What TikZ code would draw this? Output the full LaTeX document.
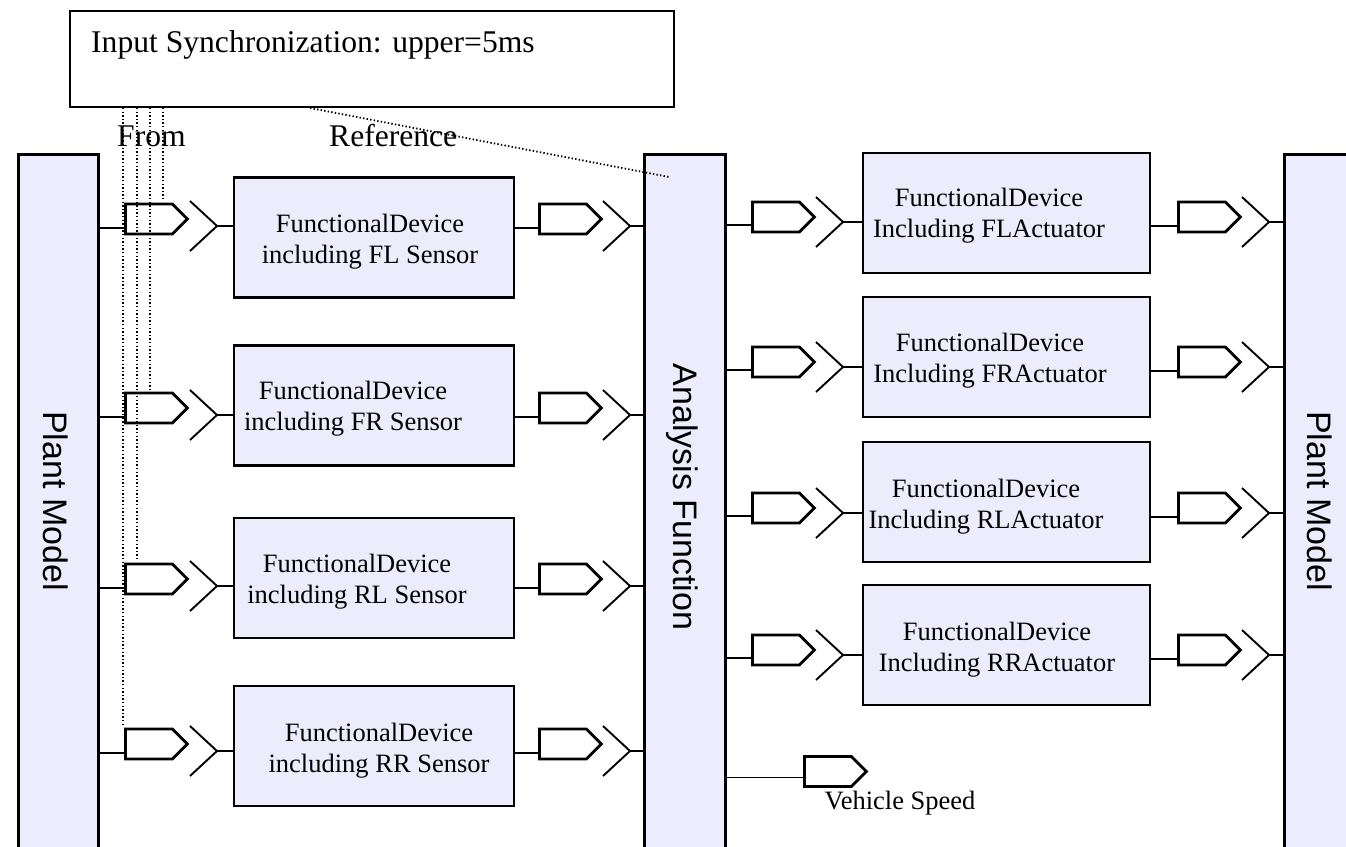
\documentclass[tikz,border=0pt]{standalone}
\usepackage{fontspec}
\setmainfont{Liberation Serif}
\newfontfamily\blocksans{Liberation Sans}
\usetikzlibrary{shapes.symbols,calc}
\definecolor{blockfill}{RGB}{236,236,253}
\tikzset{
  blk/.style={draw, line width=2.6pt, fill=blockfill, inner sep=0pt, anchor=north west},
  fdbox/.style={draw, line width=2.6pt, fill=blockfill, inner sep=0pt, minimum height=120pt},
  port/.style={signal, signal to=east, signal pointer angle=90, draw, line width=2.8pt,
               minimum width=62pt, minimum height=30pt, inner sep=0pt, anchor=west},
  wire/.style={line width=1.9pt},
  syncline/.style={line width=1.8pt, dash pattern=on 1.4pt off 2.2pt},
  lbl/.style={font=\fontsize{26.5}{31}\selectfont, align=center, inner sep=0pt},
  bigtxt/.style={font=\fontsize{31.6}{36}\selectfont, inner sep=0pt, anchor=base west},
  sidetxt/.style={font=\blocksans\fontsize{34}{40}\selectfont, rotate=-90, inner sep=0pt},
}
\begin{document}
\begin{tikzpicture}[x=1pt, y=-1pt]
\useasboundingbox (0,0) rectangle (1346,846);

% constraint box
\node[draw, line width=2pt, anchor=north west, minimum width=604pt, minimum height=96pt, inner sep=0pt] (sync) at (69,10) {};
\node[bigtxt] (synctxt) at (91,52) {Input Synchronization: upper=5ms};
\node[bigtxt] (fromtxt) at (117,146) {From};
\node[bigtxt] (reftxt) at (329,146) {Reference};

% large blocks
\node[blk, minimum width=80pt, minimum height=720pt] (plantL) at (17,153) {};
\node[blk, minimum width=81pt, minimum height=720pt] (ana) at (643,153) {};
\node[blk, minimum width=100pt, minimum height=720pt] (plantR) at (1283,153) {};
\node[sidetxt] (plantLt) at (56,501) {Plant Model};
\node[sidetxt] (anat) at (682,497) {Analysis Function};
\node[sidetxt] (plantRt) at (1320,501) {Plant Model};

% sensor rows
\foreach \i/\bc/\c/\tx/\ty/\nm in {1/237.5/219/370/242/FL, 2/405.5/408/353/409/FR,
                                   3/578/579/357/582/RL, 4/746/744/379/751/RR}{
  \node[fdbox, minimum width=280pt] (S\i) at (374,\bc) {};
  \node[lbl] (St\i) at (\tx,\ty) {FunctionalDevice\\including \nm\ Sensor};
  % input port
  \node[port] (SI\i) at (124,\c) {};
  \coordinate (SIw\i) at ($(SI\i.west)+(0,9)$);
  \draw[wire] (plantL.east |- SIw\i) -- (SIw\i);
  \coordinate (SIc\i) at (217,{\c+7});
  \draw[wire] ($(SIc\i)+(-27,-25)$) -- (SIc\i) -- ($(SIc\i)+(-27,25)$);
  \draw[wire] (SIc\i) -- (S\i.west |- SIc\i);
  % output port
  \node[port] (SO\i) at (538,\c) {};
  \coordinate (SOw\i) at ($(SO\i.west)+(0,9)$);
  \draw[wire] (S\i.east |- SOw\i) -- (SOw\i);
  \coordinate (SOc\i) at (630,{\c+7});
  \draw[wire] ($(SOc\i)+(-27,-25)$) -- (SOc\i) -- ($(SOc\i)+(-27,25)$);
  \draw[wire] (SOc\i) -- (ana.west |- SOc\i);
}

% actuator rows
\foreach \i/\bc/\c/\tx/\ty/\nm in {1/213/217/989/216/FL, 2/357/362/990/361/FR,
                                   3/502/508/986/507/RL, 4/645/650/997/650/RR}{
  \node[fdbox, minimum width=287pt] (A\i) at (1006.5,\bc) {};
  \node[lbl] (At\i) at (\tx,\ty) {FunctionalDevice\\Including \nm Actuator};
  % input port
  \node[port] (AI\i) at (751,\c) {};
  \coordinate (AIw\i) at ($(AI\i.west)+(0,8)$);
  \draw[wire] (ana.east |- AIw\i) -- (AIw\i);
  \coordinate (AIc\i) at (843,{\c+5});
  \draw[wire] ($(AIc\i)+(-27,-25)$) -- (AIc\i) -- ($(AIc\i)+(-27,25)$);
  \draw[wire] (AIc\i) -- (A\i.west |- AIc\i);
  % output port
  \node[port] (AO\i) at (1177,\c) {};
  \coordinate (AOw\i) at ($(AO\i.west)+(0,9)$);
  \draw[wire] (A\i.east |- AOw\i) -- (AOw\i);
  \coordinate (AOc\i) at (1269,{\c+5});
  \draw[wire] ($(AOc\i)+(-27,-25)$) -- (AOc\i) -- ($(AOc\i)+(-27,25)$);
  \draw[wire] (AOc\i) -- (plantR.west |- AOc\i);
}

% vehicle speed output
\node[port] (vs) at (803,771.5) {};
\coordinate (vsw) at ($(vs.west)+(0,6)$);
\draw[wire] (ana.east |- vsw) -- (vsw);
\node[lbl] (vstxt) at (900,803) {Vehicle Speed};

% synchronization references
\foreach \k/\x/\p in {1/123/SI4, 2/137/SI3, 3/150/SI2, 4/163/SI1}{
  \coordinate (dx\k) at (\x,0);
  \draw[syncline] (sync.south -| dx\k) -- ($(\p.north -| dx\k)+(0,-2)$);
}
\coordinate (rs) at (310,0);
\coordinate (re) at (669,177);
\draw[syncline] (sync.south -| rs) -- (re);
\end{tikzpicture}
\end{document}
